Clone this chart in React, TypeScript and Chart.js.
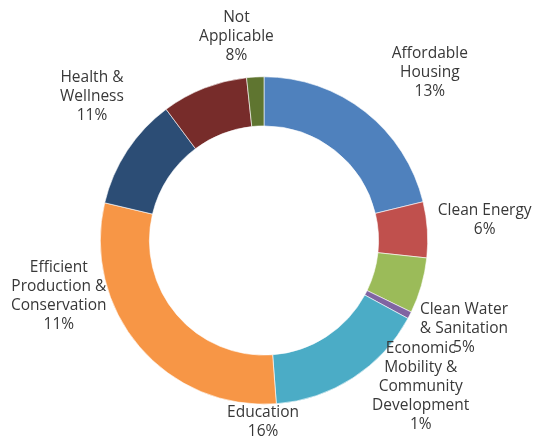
import React, { useEffect, useRef } from "react";
import { Chart, registerables } from "chart.js";

Chart.register(...registerables);

const categories = [
  "Affordable Housing",
  "Clean Energy",
  "Clean Water & Sanitation",
  "Economic Mobility & Community Development",
  "Education",
  "Efficient Production & Conservation",
  "Health & Wellness",
  "Not Applicable",
  "Other",
];
const values = [21.2, 5.5, 5.5, 0.7, 15.9, 29.9, 11.1, 8.5, 1.7];
const labelLines = [
  ["Affordable", "Housing", "13%"],
  ["Clean Energy", "6%"],
  ["Clean Water", "& Sanitation", "5%"],
  ["Economic", "Mobility &", "Community", "Development", "1%"],
  ["Education", "16%"],
  ["Efficient", "Production &", "Conservation", "11%"],
  ["Health &", "Wellness", "11%"],
  ["Not", "Applicable", "8%"],
  [],
];
const colors = [
  "#4F81BD",
  "#C0504D",
  "#9BBB59",
  "#8064A2",
  "#4BACC6",
  "#F79646",
  "#2C4D75",
  "#772C2A",
  "#5F7530",
];
// label placement: angle (deg clockwise from top) and distance as fraction of outer radius
const labelAngles = [44.6, 84.7, 113.8, 133, 180.3, 254.8, 310, 352.3, 0];
const labelDist = [1.443, 1.354, 1.335, 1.309, 1.11, 1.299, 1.372, 1.256, 0];

const labelPlugin = {
  id: "outerLabels",
  afterDraw(chart: any) {
    const meta = chart.getDatasetMeta(0);
    const ctx = chart.ctx;
    ctx.save();
    ctx.font = "15.5px 'Open Sans'";
    ctx.fillStyle = "#383838";
    ctx.textAlign = "center";
    ctx.textBaseline = "middle";
    const lh = 19;
    meta.data.forEach((arc: any, i: number) => {
      const lines = labelLines[i];
      if (!lines || !lines.length) return;
      const a = (labelAngles[i] * Math.PI) / 180;
      const r = arc.outerRadius * labelDist[i];
      const cx = arc.x + Math.sin(a) * r;
      const cy = arc.y - Math.cos(a) * r;
      const y0 = cy - ((lines.length - 1) * lh) / 2;
      lines.forEach((t, k) => ctx.fillText(t, cx, y0 + k * lh));
    });
    ctx.restore();
  },
};

export default function App() {
  const ref = useRef<HTMLCanvasElement>(null);
  useEffect(() => {
    if (!ref.current) return;
    const chart = new Chart(ref.current, {
      type: "doughnut",
      data: {
        labels: categories,
        datasets: [
          {
            data: values,
            backgroundColor: colors,
            borderColor: "#ffffff",
            borderWidth: 0.6,
          },
        ],
      },
      options: {
        responsive: false,
        animation: false,
        cutout: "70%",
        layout: { padding: { left: 100, right: 113, top: 76, bottom: 36 } },
        plugins: {
          legend: { display: false },
          tooltip: { enabled: false },
        },
      },
      plugins: [labelPlugin],
    });
    return () => chart.destroy();
  }, []);
  return (
    <div style={{ position: "fixed", left: 0, top: 0, width: 541, height: 441, background: "#fff" }}>
      <canvas ref={ref} width={541} height={441} style={{ width: 541, height: 441 }} />
    </div>
  );
}
